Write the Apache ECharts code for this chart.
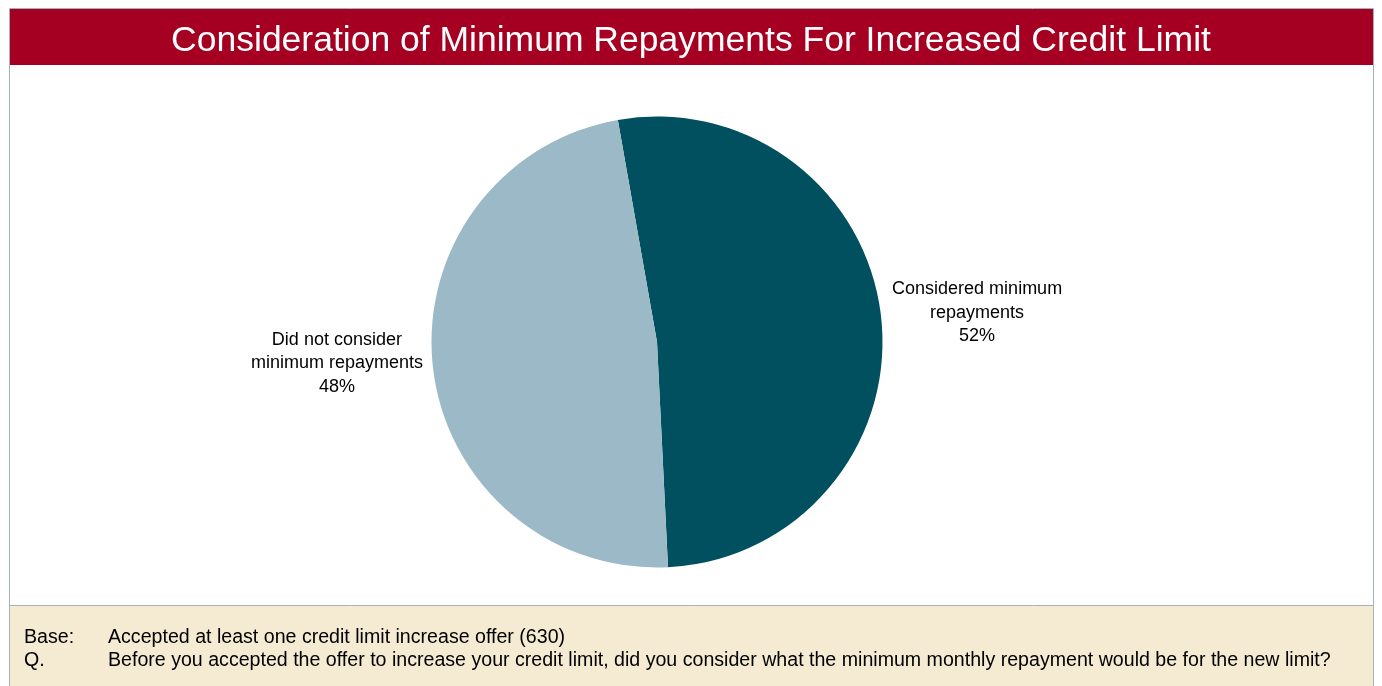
<!DOCTYPE html>
<html>
<head>
<meta charset="utf-8">
<script src="https://cdn.jsdelivr.net/npm/echarts@6/dist/echarts.min.js"></script>
<style>
  html, body { margin: 0; padding: 0; background: #ffffff; }
  #chart { width: 1382px; height: 686px; }
</style>
</head>
<body>
<div id="chart"></div>
<script>
// Survey answers, share of respondents (%)
const categories = ['Considered minimum\nrepayments', 'Did not consider\nminimum repayments'];
const shares = [52, 48];
const sliceColors = ['#00505F', '#9BB9C6'];

const titleText = 'Consideration of Minimum Repayments For Increased Credit Limit';
const footerKeys = ['Base:', 'Q.'];
const footerLines = [
  'Accepted at least one credit limit increase offer (630)',
  'Before you accepted the offer to increase your credit limit, did you consider what the minimum monthly repayment would be for the new limit?'
];

const FONT = '"Liberation Sans", Arial, sans-serif';
const chart = echarts.init(document.getElementById('chart'), null, { renderer: 'canvas' });

const footerGraphics = [];
footerKeys.forEach(function (k, i) {
  footerGraphics.push({
    type: 'text', left: 24, top: 628 + i * 23, z: 10,
    style: { text: k, fill: '#000000', font: '19.6px ' + FONT }
  });
  footerGraphics.push({
    type: 'text', left: 108, top: 628 + i * 23, z: 10,
    style: { text: footerLines[i], fill: '#000000', font: '19.6px ' + FONT }
  });
});

chart.setOption({
  backgroundColor: '#ffffff',
  animation: false,
  title: {
    text: titleText,
    left: 'center',
    top: 18,
    textStyle: { color: '#ffffff', fontSize: 35.5, fontWeight: 'normal', fontFamily: FONT }
  },
  graphic: [
    // outer frame
    { type: 'rect', shape: { x: 9.5, y: 8.5, width: 1364, height: 700 }, z: 0,
      style: { fill: '#ffffff', stroke: '#A3B1BB', lineWidth: 1 } },
    // title band
    { type: 'rect', shape: { x: 10, y: 9, width: 1363, height: 56 }, z: 1,
      style: { fill: '#A50021' } },
    // footer band
    { type: 'rect', shape: { x: 9.5, y: 605.5, width: 1364, height: 100 }, z: 1,
      style: { fill: '#F5EBD2', stroke: '#A3B1BB', lineWidth: 1 } }
  ].concat(footerGraphics),
  series: [{
    type: 'pie',
    center: [657, 342],
    radius: 225.5,
    startAngle: 100,
    clockwise: true,
    z: 5,
    data: categories.map(function (c, i) {
      return { name: c, value: shares[i], itemStyle: { color: sliceColors[i] } };
    }),
    label: {
      show: true,
      position: 'outside',
      distanceToLabelLine: 6,
      formatter: function (p) {
        const lines = p.name.split('\n').concat([p.value + '%']);
        return lines.map(function (l) { return '{t|' + l + '}'; }).join('\n');
      },
      rich: {
        t: { width: 180, align: 'center', fontSize: 18, lineHeight: 23.5, color: '#000000', fontFamily: FONT }
      }
    },
    labelLayout: { dy: -4 },
    labelLine: { show: false, length: 0, length2: 0 },
    emphasis: { disabled: true }
  }]
});
</script>
</body>
</html>
